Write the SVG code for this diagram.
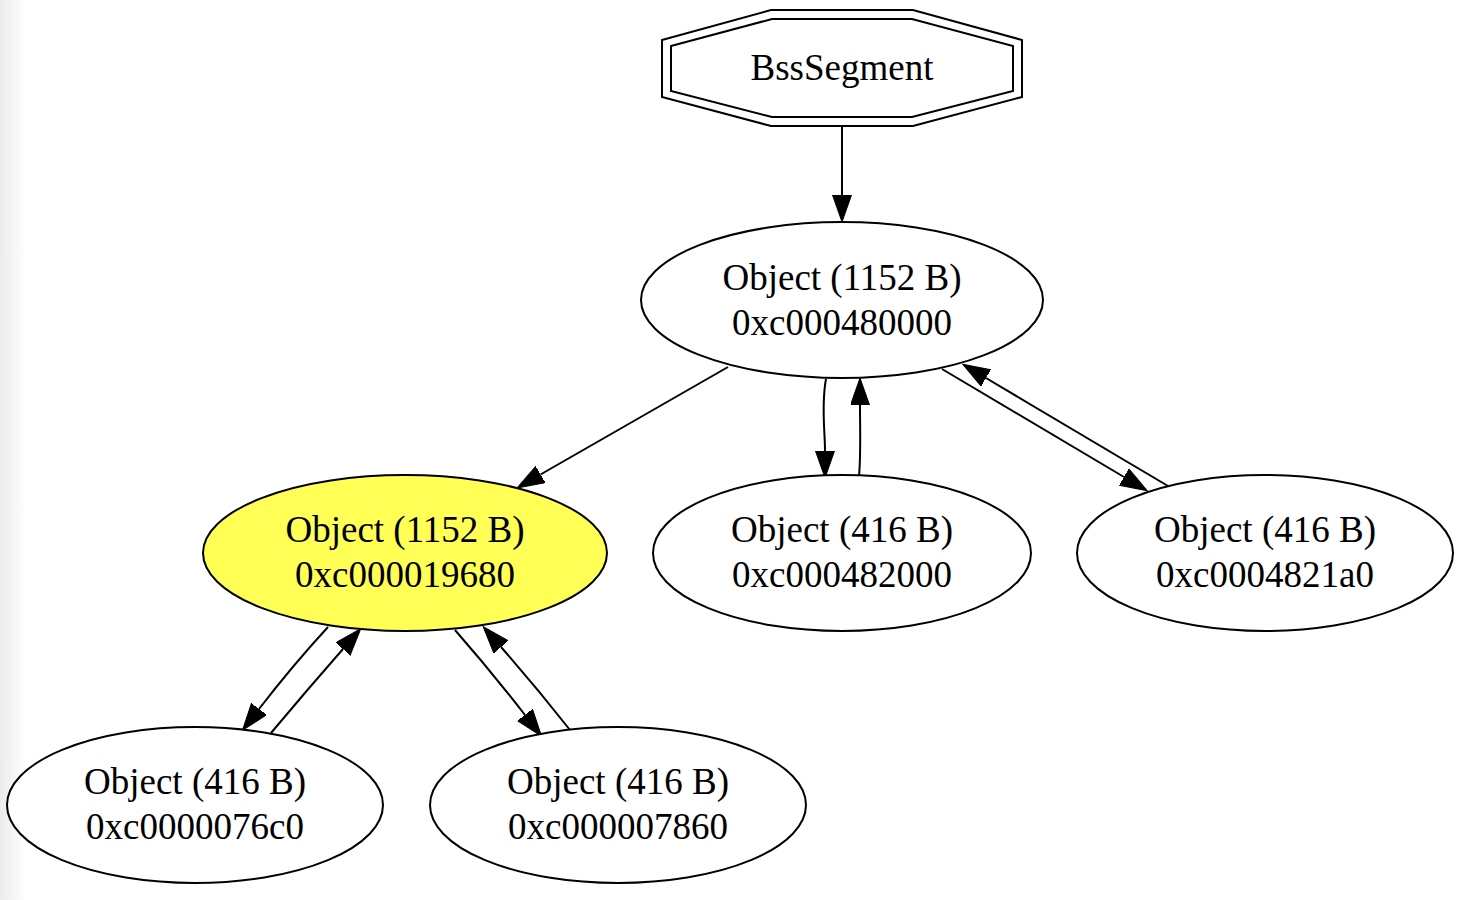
<svg xmlns="http://www.w3.org/2000/svg" width="1476" height="900" viewBox="0 0 1476 900">
<defs>
<linearGradient id="edge" x1="0" y1="0" x2="1" y2="0">
<stop offset="0" stop-color="#ebebeb"/>
<stop offset="1" stop-color="#ffffff"/>
</linearGradient>
<marker id="ah" markerUnits="userSpaceOnUse" markerWidth="28" markerHeight="20" refX="0" refY="9.5" orient="auto">
<path d="M0,0 L27,9.5 L0,19 z" fill="#000" stroke="#000" stroke-width="1"/>
</marker>
<style>
.n{fill:#fff;stroke:#000;stroke-width:2}
.t{font-family:"Liberation Serif","Times New Roman",serif;font-size:37px;fill:#000;text-anchor:middle}
.e{fill:none;stroke:#000;stroke-width:2;marker-end:url(#ah)}
</style>
</defs>
<rect x="0" y="0" width="1476" height="900" fill="#fff"/>
<rect x="0" y="0" width="26" height="900" fill="url(#edge)"/>
<g id="connectors">
<path class="e" d="M842,127 L842,195"/>
<path class="e" d="M728,367 L540.5,474.5"/>
<path class="e" d="M826,379 C821,405 825,430 825,451"/>
<path class="e" d="M859,476 C861,455 860,430 860,405"/>
<path class="e" d="M942,369 L1124,477"/>
<path class="e" d="M1168,486 L986,378"/>
<path class="e" d="M328,627 Q293,665 259,709"/>
<path class="e" d="M271,733 Q307,690 343,649"/>
<path class="e" d="M455,630 Q490,670 525,715"/>
<path class="e" d="M570,730 Q537,688 501,647"/>
</g>
<g id="bss">
<polygon class="n" points="662,40 771,10 913,10 1022,40 1022,97 913,126 771,126 662,97"/>
<polygon class="n" points="671,46 772,19 912,19 1013,46 1013,91 912,117 772,117 671,91"/>
<text class="t" x="842" y="80">BssSegment</text>
</g>
<g id="obj480000">
<ellipse class="n" cx="842" cy="300" rx="201" ry="78"/>
<text class="t" x="842" y="290">Object (1152 B)</text>
<text class="t" x="842" y="335">0xc000480000</text>
</g>
<g id="obj019680">
<ellipse class="n" cx="405" cy="553" rx="202" ry="78" style="fill:#ffff55"/>
<text class="t" x="405" y="542">Object (1152 B)</text>
<text class="t" x="405" y="587">0xc000019680</text>
</g>
<g id="obj482000">
<ellipse class="n" cx="842" cy="553" rx="189" ry="78"/>
<text class="t" x="842" y="542">Object (416 B)</text>
<text class="t" x="842" y="587">0xc000482000</text>
</g>
<g id="obj4821a0">
<ellipse class="n" cx="1265" cy="553" rx="188" ry="78"/>
<text class="t" x="1265" y="542">Object (416 B)</text>
<text class="t" x="1265" y="587">0xc0004821a0</text>
</g>
<g id="obj0076c0">
<ellipse class="n" cx="195" cy="805" rx="188" ry="78"/>
<text class="t" x="195" y="794">Object (416 B)</text>
<text class="t" x="195" y="839">0xc0000076c0</text>
</g>
<g id="obj007860">
<ellipse class="n" cx="618" cy="805" rx="188" ry="78"/>
<text class="t" x="618" y="794">Object (416 B)</text>
<text class="t" x="618" y="839">0xc000007860</text>
</g>
</svg>
